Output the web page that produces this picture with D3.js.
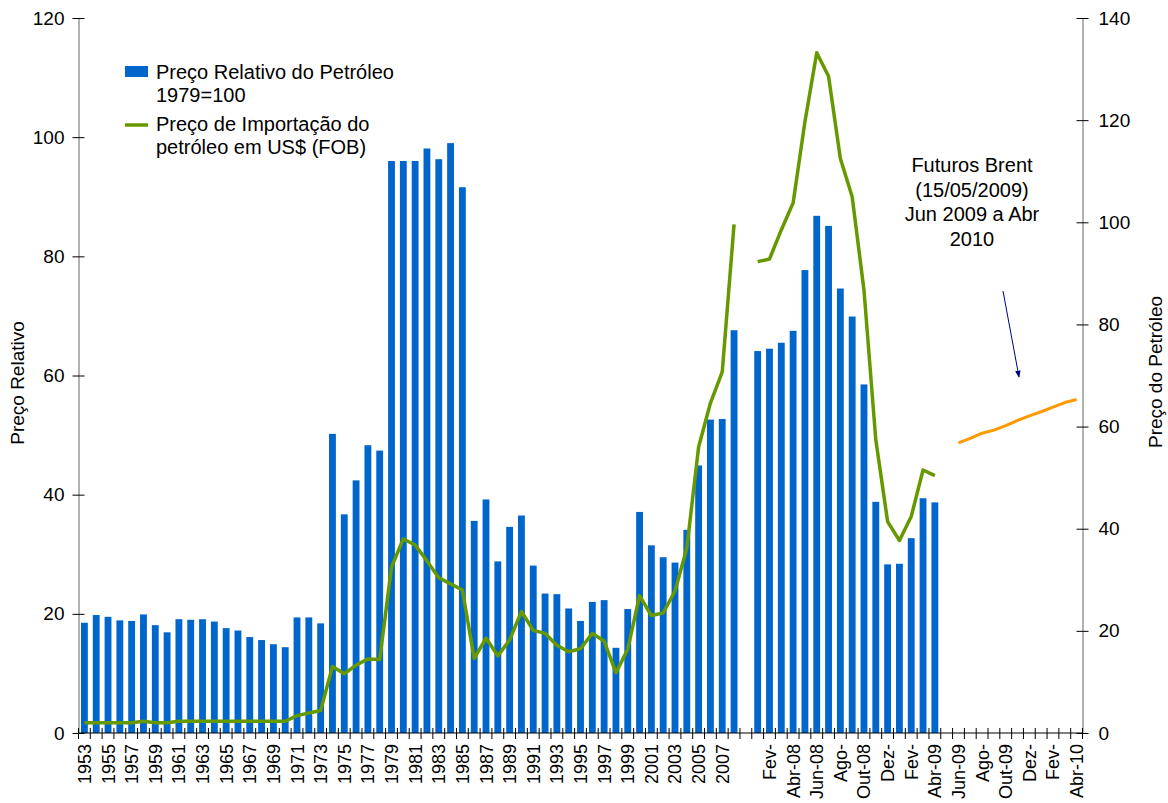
<!DOCTYPE html>
<html>
<head>
<meta charset="utf-8">
<script src="https://cdn.jsdelivr.net/npm/d3@7"></script>
<style>
  body { margin: 0; background: #fff; }
  text { font-family: "Liberation Sans", Arial, sans-serif; fill: #000; }
</style>
</head>
<body>
<div id="chart"></div>
<script>
// categories: 1953-2008, one empty slot, Jan-08..Abr-09, Mai-09..Abr-10
var years = d3.range(1953, 2009).map(String);
var months = ["Jan-08","Fev-08","Mar-08","Abr-08","Mai-08","Jun-08","Jul-08","Ago-08","Set-08","Out-08","Nov-08","Dez-08",
              "Jan-09","Fev-09","Mar-09","Abr-09"];
var futureMonths = ["Mai-09","Jun-09","Jul-09","Ago-09","Set-09","Out-09","Nov-09","Dez-09","Jan-10","Fev-10","Mar-10","Abr-10"];

// tick labels as they appear (every second category, wrapped ones cut)
var tickText = {"Fev-08":"Fev-","Abr-08":"Abr-08","Jun-08":"Jun-08","Ago-08":"Ago-","Out-08":"Out-08","Dez-08":"Dez-",
                "Fev-09":"Fev-","Abr-09":"Abr-09","Jun-09":"Jun-09","Ago-09":"Ago-","Out-09":"Out-09","Dez-09":"Dez-",
                "Fev-10":"Fev-","Abr-10":"Abr-10"};

// Preço Relativo do Petróleo 1979=100 (left axis)
var relYears = [18.5,19.8,19.5,18.9,18.8,19.9,18.1,16.9,19.1,19.0,19.1,18.7,17.6,17.2,16.1,15.6,14.9,14.4,19.4,19.4,18.4,
                50.2,36.7,42.4,48.3,47.4,96.0,96.0,96.0,98.1,96.3,99.0,91.6,
                35.6,39.2,28.8,34.6,36.5,28.1,23.4,23.3,20.9,18.8,22.0,22.3,14.3,20.8,37.1,31.5,29.5,28.6,34.1,
                44.9,52.6,52.7,67.6];
var relMonths = [64.1,64.5,65.5,67.5,77.7,86.8,85.1,74.6,69.9,58.5,38.8,28.3,28.4,32.7,39.4,38.7];

// Preço de Importação do petróleo em US$ (FOB) (right axis)
var impYears = [2.0,2.0,2.0,2.0,2.0,2.3,2.0,2.0,2.3,2.3,2.3,2.3,2.3,2.3,2.3,2.3,2.3,2.3,3.4,3.9,4.4,
                13.0,11.6,13.3,14.5,14.4,32.5,38.0,36.8,33.7,30.4,29.2,28.0,
                14.6,18.6,15.1,18.2,23.8,20.1,19.5,17.2,15.9,16.5,19.5,18.0,11.8,16.4,26.9,23.0,23.5,27.8,36.2,
                56.0,64.6,70.7,99.6];
var impMonths = [92.3,92.8,98.5,103.8,119.7,133.2,128.6,112.5,105.0,86.7,57.4,41.4,37.7,42.4,51.5,50.4];

// Futuros Brent (15/05/2009), Jun 2009 a Abr 2010 (right axis)
var brent = [56.8,57.7,58.7,59.3,60.2,61.2,62.1,62.9,63.8,64.7,65.3];

var categories = years.concat([" "], months, futureMonths);

var W = 1168, H = 803;
var margin = {left: 78.5, right: W - 1082.5, top: 18, bottom: H - 733};

var svg = d3.select("#chart").append("svg")
    .attr("width", W)
    .attr("height", H);

var x = d3.scaleBand()
    .domain(categories)
    .range([margin.left, W - margin.right])
    .paddingInner(0.42)
    .paddingOuter(0.21);
var step = x.step();
var cx = function(c) { return x(c) + x.bandwidth() / 2; };

var yL = d3.scaleLinear().domain([0, 120]).range([H - margin.bottom, margin.top]);
var yR = d3.scaleLinear().domain([0, 140]).range([H - margin.bottom, margin.top]);

// bars
var barData = years.map(function(c, i) { return {c: c, v: relYears[i]}; })
    .concat(months.map(function(c, i) { return {c: c, v: relMonths[i]}; }));

svg.append("g")
    .selectAll("rect")
    .data(barData)
    .enter().append("rect")
    .attr("x", function(d) { return x(d.c); })
    .attr("width", x.bandwidth())
    .attr("y", function(d) { return yL(d.v); })
    .attr("height", function(d) { return yL(0) - yL(d.v); })
    .attr("fill", "#0066cc");

// green lines
var line = d3.line()
    .x(function(d) { return cx(d.c); })
    .y(function(d) { return yR(d.v); });

var impY = years.map(function(c, i) { return {c: c, v: impYears[i]}; });
var impM = months.map(function(c, i) { return {c: c, v: impMonths[i]}; });
[impY, impM].forEach(function(seg) {
    svg.append("path")
        .datum(seg)
        .attr("d", line)
        .attr("fill", "none")
        .attr("stroke", "#669900")
        .attr("stroke-width", 3.5)
        .attr("stroke-linejoin", "round");
});

// orange futures
var brentData = futureMonths.slice(1).map(function(c, i) { return {c: c, v: brent[i]}; });
svg.append("path")
    .datum(brentData)
    .attr("d", line)
    .attr("fill", "none")
    .attr("stroke", "#ff9900")
    .attr("stroke-width", 3)
    .attr("stroke-linejoin", "round");

// axes
var axisColor = "#666";
var gL = svg.append("g")
    .attr("transform", "translate(" + margin.left + ",0)")
    .call(d3.axisLeft(yL).tickValues(d3.range(0, 121, 20)).tickSize(0).tickPadding(14));
gL.select(".domain").attr("stroke", axisColor);
gL.selectAll(".tick line").attr("x1", -6).attr("x2", 6).attr("stroke", "#000");
gL.selectAll(".tick text").style("font-size", "19px").attr("font-family", null);

var gR = svg.append("g")
    .attr("transform", "translate(" + (W - margin.right) + ",0)")
    .call(d3.axisRight(yR).tickValues(d3.range(0, 141, 20)).tickSize(0).tickPadding(16));
gR.select(".domain").attr("stroke", axisColor);
gR.selectAll(".tick line").attr("x1", -6).attr("x2", 6).attr("stroke", "#000");
gR.selectAll(".tick text").style("font-size", "19px").attr("font-family", null);

// x axis
var gX = svg.append("g").attr("transform", "translate(0," + yL(0) + ")");
gX.append("line")
    .attr("x1", margin.left).attr("x2", W - margin.right)
    .attr("stroke", "#000");
gX.selectAll(".xtick")
    .data(categories.concat(["__end"]))
    .enter().append("line")
    .attr("x1", function(d, i) { return margin.left + i * step; })
    .attr("x2", function(d, i) { return margin.left + i * step; })
    .attr("y1", -5).attr("y2", 6)
    .attr("stroke", "#000");
gX.selectAll(".xlab")
    .data(categories.filter(function(d, i) { return i % 2 === 0; }))
    .enter().append("text")
    .attr("transform", function(d) { return "translate(" + (cx(d) + 6.5) + ",11)rotate(-90)"; })
    .attr("text-anchor", "end")
    .style("font-size", "18px")
    .text(function(d) { return tickText[d] || d; });

// axis titles
svg.append("text")
    .attr("transform", "translate(24,383)rotate(-90)")
    .attr("text-anchor", "middle")
    .style("font-size", "19px")
    .text("Preço Relativo");
svg.append("text")
    .attr("transform", "translate(1162,372)rotate(-90)")
    .attr("text-anchor", "middle")
    .style("font-size", "19px")
    .text("Preço do Petróleo");

// legend
var lg = svg.append("g");
lg.append("rect").attr("x", 125).attr("y", 66).attr("width", 23).attr("height", 11).attr("fill", "#0066cc");
lg.append("text").attr("x", 156).attr("y", 79).style("font-size", "20px").text("Preço Relativo do Petróleo");
lg.append("text").attr("x", 156).attr("y", 102).style("font-size", "20px").text("1979=100");
lg.append("line").attr("x1", 125).attr("x2", 148).attr("y1", 125).attr("y2", 125)
    .attr("stroke", "#669900").attr("stroke-width", 3.5);
lg.append("text").attr("x", 156).attr("y", 131).style("font-size", "20px").text("Preço de Importação do");
lg.append("text").attr("x", 156).attr("y", 154).style("font-size", "20px").text("petróleo em US$ (FOB)");

// annotation
var notes = ["Futuros Brent", "(15/05/2009)", "Jun 2009 a Abr", "2010"];
svg.append("g").selectAll("text")
    .data(notes)
    .enter().append("text")
    .attr("x", 972)
    .attr("y", function(d, i) { return 172 + i * 24.5; })
    .attr("text-anchor", "middle")
    .style("font-size", "20px")
    .text(function(d) { return d; });

svg.append("defs").append("marker")
    .attr("id", "arr")
    .attr("viewBox", "0 0 10 10")
    .attr("refX", 9).attr("refY", 5)
    .attr("markerWidth", 7).attr("markerHeight", 7)
    .attr("orient", "auto")
    .append("path").attr("d", "M0,1L10,5L0,9Z").attr("fill", "#000080");
svg.append("line")
    .attr("x1", 1003).attr("y1", 291).attr("x2", 1019).attr("y2", 377)
    .attr("stroke", "#000080").attr("stroke-width", 1)
    .attr("marker-end", "url(#arr)");
</script>
</body>
</html>
